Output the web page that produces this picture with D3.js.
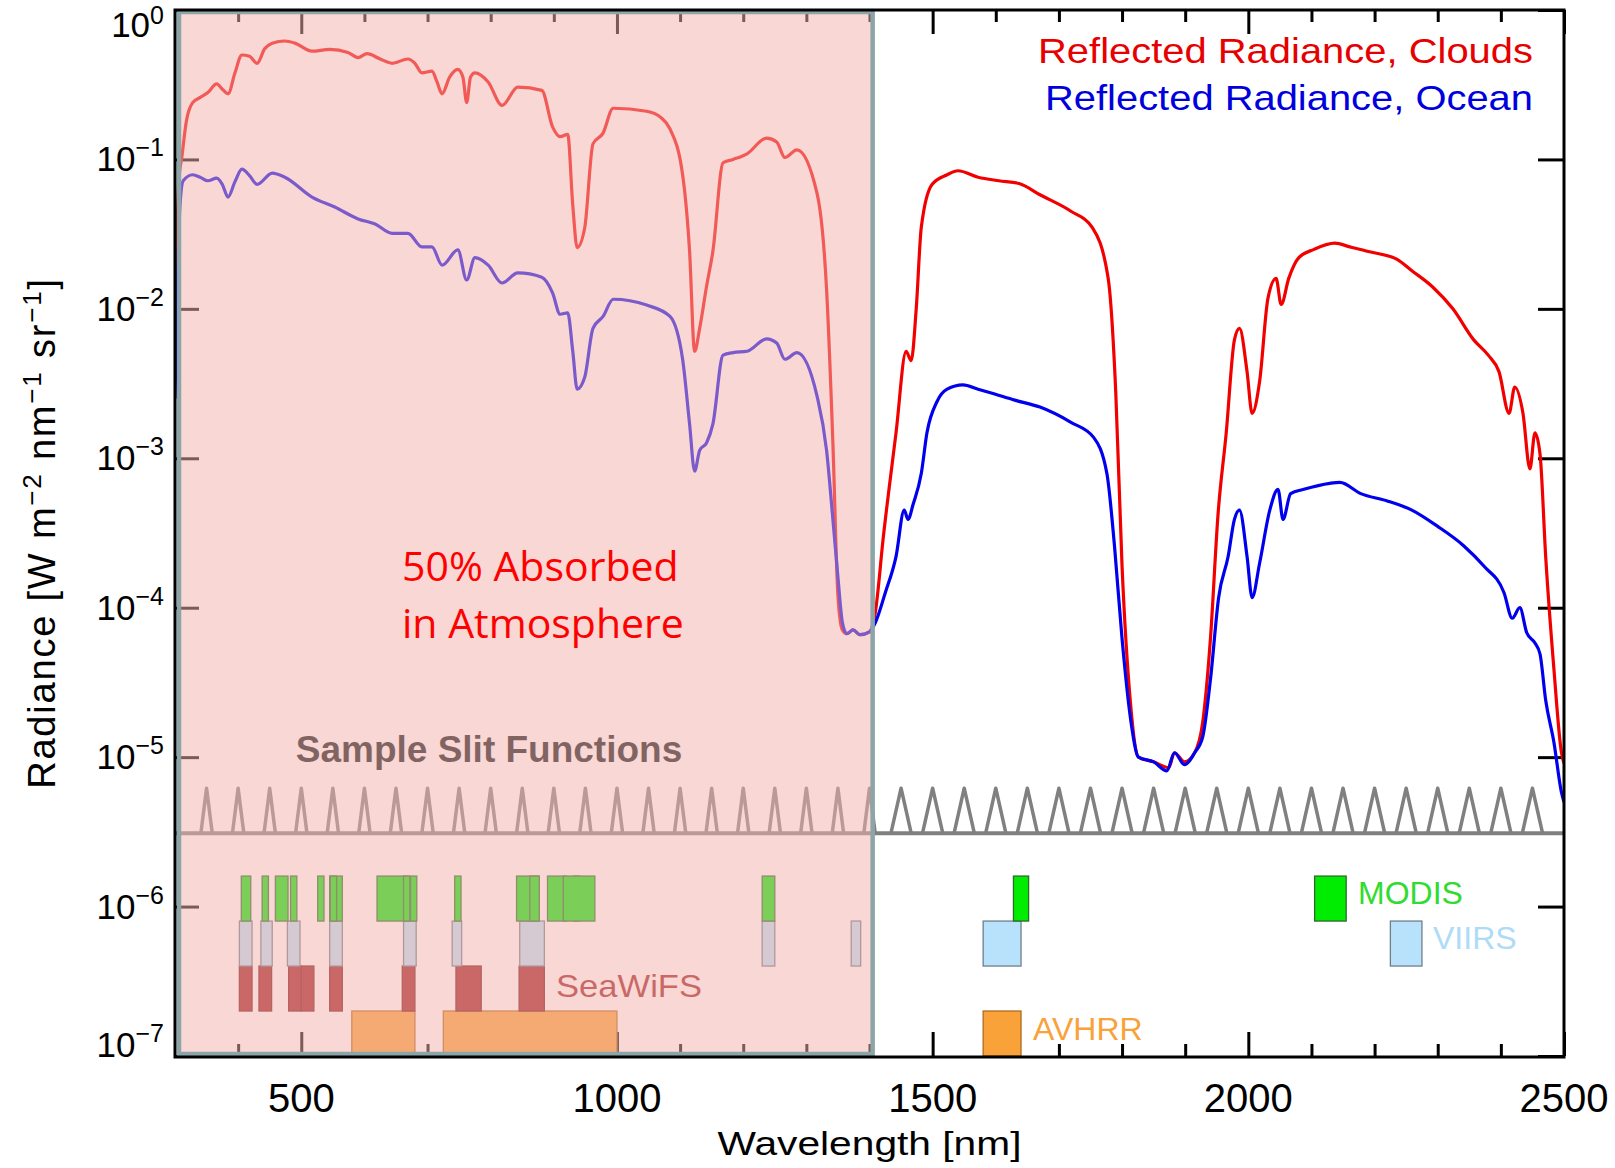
<!DOCTYPE html>
<html>
<head>
<meta charset="utf-8">
<script src="https://cdn.jsdelivr.net/npm/d3@7"></script>
<style>
  body { margin: 0; background: #ffffff; }
  svg { display: block; }
</style>
</head>
<body>
<svg id="chart" width="1615" height="1168"></svg>
<script>
// ---- Reflected radiance spectra (wavelength in nm, radiance in W m-2 nm-1 sr-1) ----
const cloudsWavelength = [300,303,306,311,318,328,340,352,366,375,384,395,406,418,430,442,454,474,490,517,545,574,590,604,625,644,669,680,691,707,715,723,735,748,756,762,768,775,796,818,843,881,898,910,922,930,937,949,962,978,994,1047,1070,1084,1104,1115,1123,1131,1142,1152,1168,1184,1206,1237,1253,1266,1285,1317,1332,1342,1350,1357,1364,1374,1385,1400,1409,1422,1442,1458,1466,1474,1482,1499,1523,1540,1572,1605,1637,1670,1719,1753,1778,1790,1800,1813,1826,1850,1874,1883,1899,1915,1928,1940,1952,1965,1978,1986,1998,2006,2018,2031,2044,2052,2064,2080,2104,2137,2161,2194,2235,2259,2292,2324,2357,2380,2397,2413,2422,2435,2446,2454,2462,2471,2484,2496,2500];
const cloudsRadiance = [1.0e-2,3.2e-2,7.1e-2,1.05e-1,1.8e-1,2.4e-1,2.6e-1,2.8e-1,3.2e-1,2.95e-1,2.75e-1,3.8e-1,5.0e-1,4.9e-1,4.4e-1,5.5e-1,6.0e-1,6.2e-1,6.0e-1,5.3e-1,5.45e-1,5.2e-1,4.8e-1,5.1e-1,4.7e-1,4.4e-1,4.7e-1,4.4e-1,3.8e-1,3.9e-1,3.3e-1,2.75e-1,3.55e-1,4.0e-1,3.55e-1,2.4e-1,3.55e-1,3.8e-1,3.3e-1,2.3e-1,3.05e-1,2.9e-1,1.65e-1,1.42e-1,1.47e-1,4.95e-2,2.57e-2,3.5e-2,1.27e-1,1.5e-1,2.2e-1,2.1e-1,1.9e-1,1.6e-1,7.9e-2,2.44e-2,5.2e-3,7.4e-3,1.42e-2,2.44e-2,9.5e-2,1.0e-1,1.09e-1,1.39e-1,1.31e-1,1.03e-1,1.16e-1,5.9e-2,1.35e-2,1.27e-3,1.2e-4,7.1e-5,6.7e-5,7.1e-5,6.6e-5,6.9e-5,9.2e-5,3.0e-4,1.48e-3,5.2e-3,4.5e-3,1.0e-2,3.5e-2,6.8e-2,7.9e-2,8.4e-2,7.6e-2,7.2e-2,6.9e-2,5.8e-2,4.5e-2,3.5e-2,1.6e-2,2.8e-3,1.9e-4,2.4e-5,1.0e-5,9.3e-6,8.5e-6,1.07e-5,9.3e-6,1.07e-5,1.74e-5,6.2e-5,4.2e-4,1.48e-3,6.2e-3,7.4e-3,3.8e-3,2.0e-3,3.3e-3,1.17e-2,1.6e-2,1.07e-2,1.6e-2,2.2e-2,2.5e-2,2.75e-2,2.6e-2,2.4e-2,2.15e-2,1.8e-2,1.4e-2,1.0e-2,6.2e-3,4.9e-3,3.8e-3,2.0e-3,3.0e-3,2.0e-3,8.5e-4,1.48e-3,1.07e-3,2.2e-4,3.9e-5,1.07e-5,9.1e-6];

const oceanWavelength = [300,304,308,313,328,340,352,366,375,384,395,406,418,430,454,474,517,553,590,617,644,669,691,707,723,748,762,775,796,818,843,881,898,910,922,930,937,949,962,978,994,1047,1084,1104,1115,1123,1131,1142,1152,1168,1184,1206,1237,1253,1266,1285,1317,1332,1342,1350,1357,1364,1374,1385,1400,1409,1425,1442,1455,1461,1469,1482,1491,1507,1523,1548,1572,1597,1630,1670,1719,1755,1776,1788,1800,1814,1826,1850,1871,1883,1899,1915,1928,1940,1953,1968,1978,1986,1998,2006,2018,2034,2047,2055,2067,2088,2129,2145,2178,2219,2259,2300,2341,2373,2405,2418,2430,2441,2454,2462,2471,2484,2496,2500];
const oceanRadiance = [2.5e-3,1.6e-2,5.0e-2,7.2e-2,7.9e-2,7.6e-2,7.2e-2,7.5e-2,6.8e-2,5.6e-2,7.1e-2,8.6e-2,7.8e-2,6.8e-2,8.1e-2,7.6e-2,5.6e-2,4.8e-2,4.0e-2,3.7e-2,3.2e-2,3.2e-2,2.6e-2,2.6e-2,1.96e-2,2.48e-2,1.56e-2,2.2e-2,1.96e-2,1.49e-2,1.74e-2,1.63e-2,1.28e-2,9.2e-3,9.4e-3,5.2e-3,2.9e-3,3.5e-3,7.4e-3,8.9e-3,1.16e-2,1.06e-2,8.9e-3,4.6e-3,1.7e-3,8.2e-4,1.13e-3,1.27e-3,1.7e-3,4.9e-3,5.1e-3,5.2e-3,6.3e-3,5.9e-3,4.6e-3,5.1e-3,2.6e-3,1.13e-3,3.9e-4,1.6e-4,8.0e-5,6.7e-5,7.1e-5,6.6e-5,6.9e-5,7.9e-5,1.26e-4,2.2e-4,4.5e-4,3.9e-4,4.9e-4,7.9e-4,1.48e-3,2.4e-3,2.9e-3,3.1e-3,2.9e-3,2.7e-3,2.45e-3,2.2e-3,1.74e-3,1.38e-3,7.9e-4,2.6e-4,6.2e-5,1.74e-5,1.0e-5,9.3e-6,8.1e-6,1.07e-5,8.9e-6,1.07e-5,1.38e-5,3.3e-5,1.17e-4,2.2e-4,3.9e-4,4.5e-4,2.2e-4,1.17e-4,2.0e-4,4.5e-4,6.2e-4,3.9e-4,5.8e-4,6.2e-4,6.8e-4,6.9e-4,5.8e-4,5.2e-4,4.5e-4,3.5e-4,2.6e-4,1.9e-4,1.26e-4,8.5e-5,1.0e-4,6.8e-5,5.8e-5,4.9e-5,2.4e-5,1.26e-5,5.8e-6,5.0e-6];

// ---- Sample slit functions: centre wavelength and half width at the base (nm) ----
const slitCenters = [350,400,450,500,550,600,650,700,750,800,850,900,950,1000,1050,1100,1150,1200,1250,1300,1350,1400,1450,1500,1550,1600,1650,1700,1750,1800,1850,1900,1950,2000,2050,2100,2150,2200,2250,2300,2350,2400,2450];
const slitHalfWidths = [9,9,9,9,9,9,9,9,9,9,9,9,9,9,9,9,9,9,9,9,9,9,16,16,16,16,16,16,16,16,16,16,16,16,16,16,16,16,16,16,16,16,16];
const slitLevels = [3.1e-6, 6.2e-6];           // baseline, peak

// ---- Instrument spectral bands [start, end] in nm ----
const modisBands = [[405,420],[438,448],[459,479],[483,493],[526,536],[545,565],[546,556],[620,670],[662,672],[673,683],[743,753],[841,876],[862,877],[890,920],[931,941],[915,965],[1230,1250],[1628,1652],[2105,2155]];
const viirsBands = [[402,422],[436,454],[478,498],[545,565],[662,682],[739,754],[846,885],[1230,1250],[1371,1386],[1580,1640],[2225,2275]];
const seawifsBands = [[402,422],[433,453],[480,500],[500,520],[545,565],[660,680],[745,785],[845,885]];
const avhrrBands = [[580,680],[725,1000],[1580,1640]];
// radiance-axis rows where each instrument's bands sit [bottom, top]
const bandRows = { modis: [8e-7, 1.6e-6], viirs: [4e-7, 8e-7], seawifs: [2e-7, 4e-7], avhrr: [1e-7, 2e-7] };

// ---- Axes ----
const yTickValues = [1, 1e-1, 1e-2, 1e-3, 1e-4, 1e-5, 1e-6, 1e-7];
const yTickExponents = ["0", "\u22121", "\u22122", "\u22123", "\u22124", "\u22125", "\u22126", "\u22127"];
const xMajorTicks = [500, 1000, 1500, 2000, 2500];
const xMinorTicks = [400, 600, 700, 800, 900, 1100, 1200, 1300, 1400, 1600, 1700, 1800, 1900, 2100, 2200, 2300, 2400];
const absorbedRange = [300, 1405];

const svg = d3.select("#chart");
const FONT = "'Liberation Sans', Arial, sans-serif";

const x = d3.scaleLinear().domain([300, 2500]).range([175, 1564]);
const y = d3.scaleLog().domain([1e-7, 1]).range([1056, 10]);

const [x0, x1] = x.range();
const [y0, y1] = [y(1), y(1e-7)];

svg.append("defs").append("clipPath").attr("id", "plot-clip")
  .append("rect").attr("x", x0).attr("y", y0).attr("width", x1 - x0).attr("height", y1 - y0);

// ---- tick marks (drawn inward on all four sides) ----
function tickGroup(axis, tx, ty, size) {
  const g = svg.append("g").attr("transform", `translate(${tx},${ty})`)
    .call(axis.tickSize(size).tickFormat(""));
  g.select(".domain").remove();
  g.selectAll(".tick line").attr("stroke", "#000").attr("stroke-width", 3);
  return g;
}
tickGroup(d3.axisRight(y).tickValues(yTickValues), x0, 0, 24);
tickGroup(d3.axisLeft(y).tickValues(yTickValues), x1, 0, 26);
tickGroup(d3.axisBottom(x).tickValues(xMajorTicks), 0, y0, 24);
tickGroup(d3.axisBottom(x).tickValues(xMinorTicks), 0, y0, 12);
tickGroup(d3.axisTop(x).tickValues(xMajorTicks), 0, y1, 24);
tickGroup(d3.axisTop(x).tickValues(xMinorTicks), 0, y1, 12);

// ---- instrument band rectangles ----
const bandStyles = [
  { key: "avhrr",   bands: avhrrBands,   fill: "#f9a23a", stroke: "#b06a20" },
  { key: "seawifs", bands: seawifsBands, fill: "#a01e22", stroke: "#7a1418" },
  { key: "viirs",   bands: viirsBands,   fill: "#b8e2fb", stroke: "#6e7f8c" },
  { key: "modis",   bands: modisBands,   fill: "#00ec00", stroke: "#2d6a2d" }
];
const bandLayer = svg.append("g").attr("clip-path", "url(#plot-clip)");
bandStyles.forEach(s => {
  const [lo, hi] = bandRows[s.key];
  bandLayer.append("g").selectAll("rect").data(s.bands).join("rect")
    .attr("x", d => x(d[0]))
    .attr("y", y(hi))
    .attr("width", d => x(d[1]) - x(d[0]))
    .attr("height", y(lo) - y(hi))
    .attr("fill", s.fill)
    .attr("stroke", s.stroke)
    .attr("stroke-width", 1.3);
});

// ---- slit functions ----
const slitLayer = svg.append("g").attr("clip-path", "url(#plot-clip)");
slitLayer.append("line")
  .attr("x1", x0).attr("x2", x1)
  .attr("y1", y(slitLevels[0])).attr("y2", y(slitLevels[0]))
  .attr("stroke", "#808080").attr("stroke-width", 4);
const slitLine = d3.line().x(d => x(d[0])).y(d => y(d[1]));
slitLayer.selectAll("path.slit").data(slitCenters).join("path")
  .attr("class", "slit")
  .attr("d", (c, i) => slitLine([[c - slitHalfWidths[i], slitLevels[0]], [c, slitLevels[1]], [c + slitHalfWidths[i], slitLevels[0]]]))
  .attr("fill", "none")
  .attr("stroke", "#808080")
  .attr("stroke-width", 3.5)
  .attr("stroke-linejoin", "round");

// ---- radiance curves ----
const curveLayer = svg.append("g").attr("clip-path", "url(#plot-clip)");
const radianceLine = d3.line().x(d => x(d[0])).y(d => y(d[1])).curve(d3.curveMonotoneX);
curveLayer.append("path")
  .datum(d3.zip(cloudsWavelength, cloudsRadiance))
  .attr("d", radianceLine)
  .attr("fill", "none").attr("stroke", "#f20000").attr("stroke-width", 3.2).attr("stroke-linejoin", "round");
curveLayer.append("path")
  .datum(d3.zip(oceanWavelength, oceanRadiance))
  .attr("d", radianceLine)
  .attr("fill", "none").attr("stroke", "#0000ee").attr("stroke-width", 3.2).attr("stroke-linejoin", "round");

// ---- labels sitting under the absorption shading ----
svg.append("text")
  .attr("x", 556).attr("y", 997)
  .attr("font-family", FONT).attr("font-size", 32)
  .attr("textLength", 146).attr("lengthAdjust", "spacingAndGlyphs")
  .attr("fill", "#a01e22")
  .text("SeaWiFS");
svg.append("text")
  .attr("x", 489).attr("y", 762)
  .attr("text-anchor", "middle")
  .attr("font-family", FONT).attr("font-weight", "bold").attr("font-size", 37)
  .attr("fill", "#0e1418")
  .text("Sample Slit Functions");

// ---- shaded absorption region ----
const ax0 = x(absorbedRange[0]) + 4, ax1 = x(absorbedRange[1]);
svg.append("rect")
  .attr("x", ax0).attr("y", y0 + 1)
  .attr("width", ax1 - ax0).attr("height", y1 - y0 - 3)
  .attr("fill", "rgb(241,176,170)").attr("fill-opacity", 0.51);
svg.append("rect")
  .attr("x", ax0).attr("y", y0 + 2)
  .attr("width", ax1 - ax0).attr("height", y1 - y0 - 4)
  .attr("fill", "none").attr("stroke", "#8ca5a8").attr("stroke-width", 4.5);

// ---- plot frame ----
svg.append("rect")
  .attr("x", x0).attr("y", y0).attr("width", x1 - x0).attr("height", y1 - y0 + 1)
  .attr("fill", "none").attr("stroke", "#000").attr("stroke-width", 3);

// ---- texts above everything ----
const absorbed = svg.append("text")
  .attr("font-family", "'Open Sans', 'Noto Sans', sans-serif").attr("font-size", 41)
  .attr("fill", "#ff0000");
absorbed.append("tspan").attr("x", 402).attr("y", 581).text("50% Absorbed");
absorbed.append("tspan").attr("x", 402).attr("y", 638).text("in Atmosphere");

svg.append("text")
  .attr("x", 1533).attr("y", 63).attr("text-anchor", "end")
  .attr("font-family", FONT).attr("font-size", 35)
  .attr("textLength", 495).attr("lengthAdjust", "spacingAndGlyphs")
  .attr("fill", "#e60000").text("Reflected Radiance, Clouds");
svg.append("text")
  .attr("x", 1533).attr("y", 110).attr("text-anchor", "end")
  .attr("font-family", FONT).attr("font-size", 35)
  .attr("textLength", 488).attr("lengthAdjust", "spacingAndGlyphs")
  .attr("fill", "#0000dd").text("Reflected Radiance, Ocean");

svg.append("text").attr("x", 1358).attr("y", 904)
  .attr("font-family", FONT).attr("font-size", 32).attr("fill", "#2fdc2f").text("MODIS");
svg.append("text").attr("x", 1433).attr("y", 949)
  .attr("font-family", FONT).attr("font-size", 32).attr("fill", "#aedcf6").text("VIIRS");
svg.append("text").attr("x", 1033).attr("y", 1040)
  .attr("font-family", FONT).attr("font-size", 32).attr("fill", "#f9a23a").text("AVHRR");

// ---- tick labels (end labels pulled inside the frame height) ----
const lastTick = yTickValues.length - 1;
yTickValues.forEach((v, i) => {
  const nudge = i === 0 ? 15 : (i === lastTick ? -11 : 0);
  const t = svg.append("text")
    .attr("x", 164).attr("y", y(v) + 12 + nudge)
    .attr("text-anchor", "end")
    .attr("font-family", FONT).attr("font-size", 35).attr("fill", "#000");
  t.append("tspan").text("10");
  t.append("tspan").attr("dy", i === 0 ? -13 : -15).attr("font-size", 25).text(yTickExponents[i]);
});
svg.append("g").selectAll("text").data(xMajorTicks).join("text")
  .attr("x", d => x(d)).attr("y", 1112)
  .attr("text-anchor", "middle")
  .attr("font-family", FONT).attr("font-size", 40).attr("fill", "#000")
  .text(d => d);

// ---- axis titles ----
svg.append("text")
  .attr("x", (x0 + x1) / 2).attr("y", 1155)
  .attr("text-anchor", "middle")
  .attr("font-family", FONT).attr("font-size", 34)
  .attr("textLength", 304).attr("lengthAdjust", "spacingAndGlyphs")
  .text("Wavelength [nm]");

const yTitle = svg.append("text")
  .attr("transform", `translate(55,${(y0 + y1) / 2}) rotate(-90)`)
  .attr("text-anchor", "middle")
  .attr("font-family", FONT).attr("font-size", 38)
  .attr("letter-spacing", 1.8);
yTitle.append("tspan").text("Radiance [W m");
yTitle.append("tspan").attr("dy", -14).attr("font-size", 26).text("\u22122");
yTitle.append("tspan").attr("dy", 14).text(" nm");
yTitle.append("tspan").attr("dy", -14).attr("font-size", 26).text("\u22121");
yTitle.append("tspan").attr("dy", 14).text(" sr");
yTitle.append("tspan").attr("dy", -14).attr("font-size", 26).text("\u22121");
yTitle.append("tspan").attr("dy", 14).text("]");
</script>
</body>
</html>
